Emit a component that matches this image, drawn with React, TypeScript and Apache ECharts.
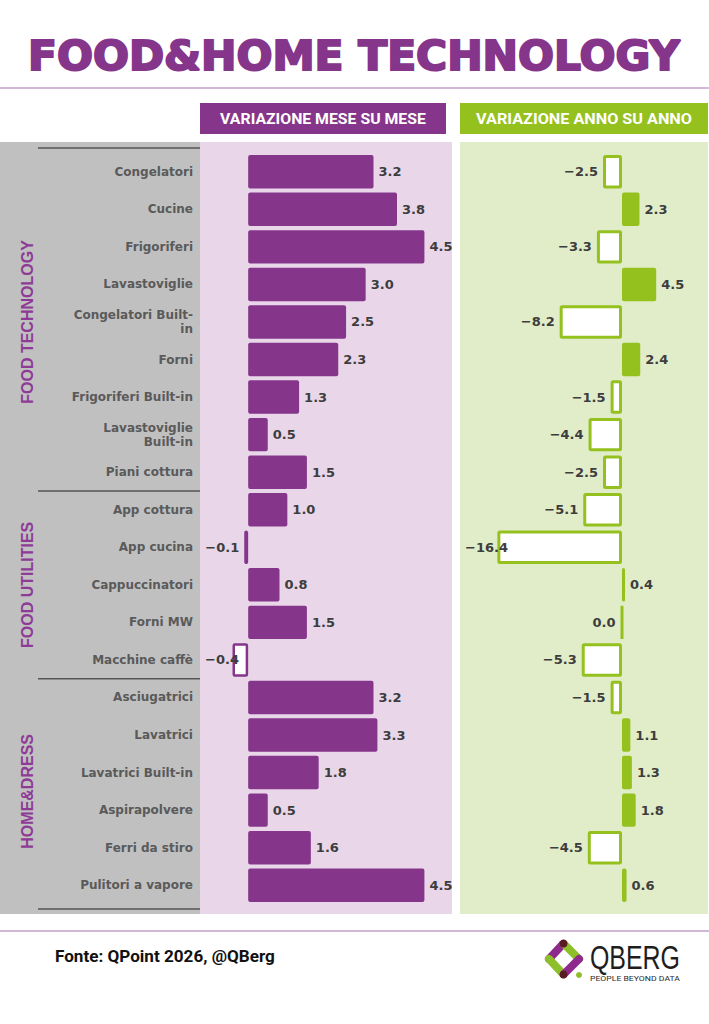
import React, { useEffect, useRef } from "react";
import * as echarts from "echarts";

// Product categories, top to bottom
const categories = [
  "Congelatori",
  "Cucine",
  "Frigoriferi",
  "Lavastoviglie",
  "Congelatori Built-\nin",
  "Forni",
  "Frigoriferi Built-in",
  "Lavastoviglie\nBuilt-in",
  "Piani cottura",
  "App cottura",
  "App cucina",
  "Cappuccinatori",
  "Forni MW",
  "Macchine caffè",
  "Asciugatrici",
  "Lavatrici",
  "Lavatrici Built-in",
  "Aspirapolvere",
  "Ferri da stiro",
  "Pulitori a vapore",
];

// Month-on-month change (%)
const momValues = [3.2, 3.8, 4.5, 3.0, 2.5, 2.3, 1.3, 0.5, 1.5, 1.0, -0.1, 0.8, 1.5, -0.4, 3.2, 3.3, 1.8, 0.5, 1.6, 4.5];

// Year-on-year change (%)
const yoyValues = [-2.5, 2.3, -3.3, 4.5, -8.2, 2.4, -1.5, -4.4, -2.5, -5.1, -16.4, 0.4, 0.0, -5.3, -1.5, 1.1, 1.3, 1.8, -4.5, 0.6];

// Category groups (name, number of rows)
const groupNames = ["FOOD TECHNOLOGY", "FOOD UTILITIES", "HOME&DRESS"];
const groupSizes = [9, 5, 6];

const headerLabels = ["VARIAZIONE MESE SU MESE", "VARIAZIONE ANNO SU ANNO"];
const titleText = "FOOD&HOME TECHNOLOGY";
const sourceText = "Fonte: QPoint 2026, @QBerg";

const PURPLE = "#85368b";
const GREEN = "#95c11f";
const LABEL = "#3d3d3d";
const CAT = "#5a5a5a";

const W = 709;
const H = 1024;
const GRID_TOP = 153;
const GRID_H = 751;

// value-axis layouts: [panel left, grid left, grid width, min, max]
const LEFT_AXIS = { panel: 200, left: 209, width: 235, min: -1, max: 5 };
const RIGHT_AXIS = { panel: 460, left: 622 - 18 * 7.6, width: 26 * 7.6, min: -18, max: 8 };

const LABEL_FONT = "bold 13px 'DejaVu Sans'";
const LABEL_GAP = 5;

function measure(text: string, font: string): number {
  const ctx = document.createElement("canvas").getContext("2d");
  if (!ctx) return 1;
  ctx.font = font;
  return ctx.measureText(text).width || 1;
}

function fmt(v: number): string {
  return (v < 0 ? "−" : "") + Math.abs(v).toFixed(1);
}

// Bars: solid for gains, hollow outline for losses; loss labels are kept inside the panel.
function barData(values: number[], color: string, border: number, axis: typeof LEFT_AXIS) {
  const k = axis.width / (axis.max - axis.min);
  const zeroX = axis.left + (0 - axis.min) * k;
  return values.map((v) => {
    let dx = 0;
    if (v <= 0) {
      const right = zeroX + v * k - LABEL_GAP;
      const left = right - measure(fmt(v), LABEL_FONT);
      const minLeft = axis.panel + 5;
      if (left < minLeft) dx = minLeft - left;
    }
    return {
      value: v,
      itemStyle:
        v > 0
          ? { color, borderRadius: 2 }
          : { color: "#ffffff", borderColor: color, borderWidth: border, borderRadius: 1 },
      label: { position: v > 0 ? "right" : "left", offset: [dx, 0] },
    };
  });
}

export default function App() {
  const ref = useRef<HTMLDivElement>(null);

  useEffect(() => {
    document.body.style.margin = "0";
    if (!ref.current) return;
    const chart = echarts.init(ref.current, undefined, { renderer: "svg" });

    const rowH = GRID_H / categories.length;

    const titleFont = "bold 40px 'DejaVu Sans'";
    const titleScale = 652 / measure(titleText, titleFont);
    const headFont = "bold 15px Roboto";
    const head0Scale = 206 / measure(headerLabels[0], headFont);
    const head1Scale = 216 / measure(headerLabels[1], headFont);
    const logoFont = "33px 'Liberation Sans Narrow', 'Liberation Sans'";
    const logoScale = 90 / measure("QBERG", logoFont);
    const tagFont = "8px Roboto";
    const tagScale = 90 / measure("PEOPLE BEYOND DATA", tagFont);
    const srcFont = "bold 16px Roboto";
    const srcScale = 220 / measure(sourceText, srcFont);

    const graphics: any[] = [
      // panels
      { type: "rect", z: -100, shape: { x: 0, y: 142, width: 200, height: 772 }, style: { fill: "#c0c0c0" } },
      { type: "rect", z: -100, shape: { x: 200, y: 142, width: 252, height: 772 }, style: { fill: "#e9d7e9" } },
      { type: "rect", z: -100, shape: { x: 460, y: 142, width: 248, height: 772 }, style: { fill: "#e1edc9" } },
      // title
      {
        type: "text",
        x: 354,
        y: 56,
        scaleX: titleScale,
        style: {
          text: titleText,
          font: titleFont,
          fill: PURPLE,
          stroke: PURPLE,
          lineWidth: 2,
          align: "center",
          verticalAlign: "middle",
        },
      },
      { type: "line", shape: { x1: 0, y1: 88, x2: W, y2: 88 }, style: { stroke: "#c49fca", lineWidth: 1.5 } },
      // column headers
      { type: "rect", shape: { x: 200, y: 103, width: 246, height: 31 }, style: { fill: PURPLE } },
      { type: "rect", shape: { x: 460, y: 103, width: 248, height: 31 }, style: { fill: GREEN } },
      {
        type: "text",
        x: 323,
        y: 119,
        scaleX: head0Scale,
        style: { text: headerLabels[0], font: headFont, fill: "#ffffff", align: "center", verticalAlign: "middle" },
      },
      {
        type: "text",
        x: 584,
        y: 119,
        scaleX: head1Scale,
        style: { text: headerLabels[1], font: headFont, fill: "#ffffff", align: "center", verticalAlign: "middle" },
      },
      // footer
      { type: "line", shape: { x1: 0, y1: 931, x2: W, y2: 931 }, style: { stroke: "#c49fca", lineWidth: 1.5 } },
      {
        type: "text",
        x: 55,
        y: 957,
        scaleX: srcScale,
        style: { text: sourceText, font: srcFont, fill: "#111111", align: "left", verticalAlign: "middle" },
      },
      // logo mark
      { type: "line", shape: { x1: 563, y1: 944, x2: 549, y2: 959 }, style: { stroke: "#8e2a8b", lineWidth: 8, lineCap: "round" } },
      { type: "line", shape: { x1: 549, y1: 959, x2: 563, y2: 974 }, style: { stroke: "#8cbf2a", lineWidth: 8, lineCap: "round" } },
      { type: "line", shape: { x1: 564, y1: 944, x2: 579, y2: 959 }, style: { stroke: "#8cbf2a", lineWidth: 8, lineCap: "round" } },
      { type: "line", shape: { x1: 579, y1: 959, x2: 564, y2: 974 }, style: { stroke: "#8e2a8b", lineWidth: 8, lineCap: "round" } },
      { type: "circle", shape: { cx: 563.5, cy: 943.5, r: 4 }, style: { fill: "#5a1a24" } },
      { type: "circle", shape: { cx: 563.5, cy: 974.5, r: 4 }, style: { fill: "#5a1a24" } },
      { type: "circle", shape: { cx: 579, cy: 975, r: 3 }, style: { fill: "#8cbf2a" } },
      {
        type: "text",
        x: 590,
        y: 958,
        scaleX: logoScale,
        style: { text: "QBERG", font: logoFont, fill: "#1e1e1e", align: "left", verticalAlign: "middle" },
      },
      {
        type: "text",
        x: 590,
        y: 978,
        scaleX: tagScale,
        style: { text: "PEOPLE BEYOND DATA", font: tagFont, fill: "#2a2a2a", align: "left", verticalAlign: "middle" },
      },
    ];

    // group separators and vertical group names
    const bounds = [0];
    groupSizes.forEach((n) => bounds.push(bounds[bounds.length - 1] + n));
    bounds.forEach((b, i) => {
      let y = GRID_TOP + b * rowH;
      if (i === 0) y -= 5;
      if (i === bounds.length - 1) y += 5;
      graphics.push({
        type: "line",
        shape: { x1: 38, y1: y, x2: 200, y2: y },
        style: { stroke: "#555555", lineWidth: 1.5 },
      });
    });
    groupNames.forEach((name, i) => {
      const cy = GRID_TOP + ((bounds[i] + bounds[i + 1]) / 2) * rowH;
      graphics.push({
        type: "text",
        x: 27,
        y: cy,
        rotation: Math.PI / 2,
        style: {
          text: name,
          font: "bold 16px 'Liberation Sans'",
          fill: "#8e3a96",
          align: "center",
          verticalAlign: "middle",
        },
      });
    });

    const labelStyle = {
      show: true,
      formatter: (p: any) => fmt(p.value),
      fontSize: 13,
      fontWeight: "bold",
      fontFamily: "'DejaVu Sans'",
      color: LABEL,
      distance: LABEL_GAP,
    };

    chart.setOption({
      animation: false,
      grid: [
        { left: LEFT_AXIS.left, width: LEFT_AXIS.width, top: GRID_TOP, height: GRID_H },
        { left: RIGHT_AXIS.left, width: RIGHT_AXIS.width, top: GRID_TOP, height: GRID_H },
      ],
      xAxis: [
        { type: "value", gridIndex: 0, min: LEFT_AXIS.min, max: LEFT_AXIS.max, show: false },
        { type: "value", gridIndex: 1, min: RIGHT_AXIS.min, max: RIGHT_AXIS.max, show: false },
      ],
      yAxis: [
        {
          type: "category",
          gridIndex: 0,
          inverse: true,
          data: categories,
          axisLine: { show: false },
          axisTick: { show: false },
          splitLine: { show: false },
          axisLabel: {
            margin: 16,
            fontSize: 12,
            fontWeight: "bold",
            fontFamily: "'DejaVu Sans'",
            color: CAT,
            lineHeight: 14,
            align: "right",
            padding: [0, 0, 10, 0],
          },
        },
        {
          type: "category",
          gridIndex: 1,
          inverse: true,
          data: categories,
          show: false,
        },
      ],
      series: [
        {
          type: "bar",
          xAxisIndex: 0,
          yAxisIndex: 0,
          barCategoryGap: "11%",
          data: barData(momValues, PURPLE, 2.5, LEFT_AXIS),
          label: labelStyle,
        },
        {
          type: "bar",
          xAxisIndex: 1,
          yAxisIndex: 1,
          barCategoryGap: "11%",
          data: barData(yoyValues, GREEN, 3, RIGHT_AXIS),
          label: labelStyle,
        },
      ],
      graphic: { elements: graphics },
    });

    return () => chart.dispose();
  }, []);

  return <div ref={ref} style={{ width: W, height: H }} />;
}
